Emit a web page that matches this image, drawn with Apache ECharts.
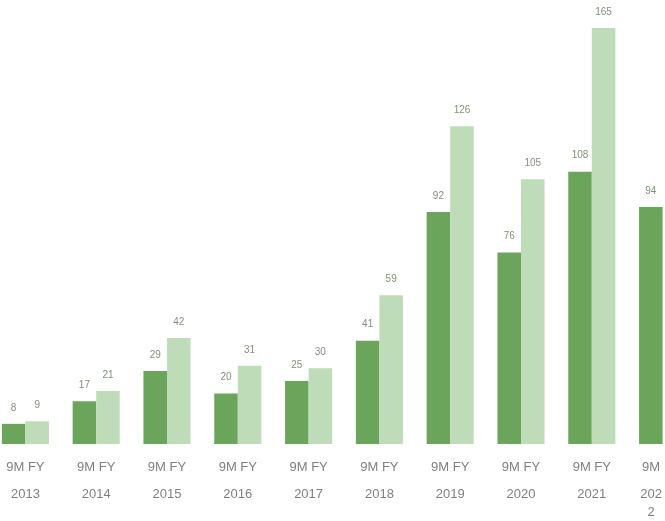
<!DOCTYPE html>
<html>
<head>
	<meta charset="utf-8">
	<title>9M vs FY</title>
	<script src="https://cdn.jsdelivr.net/npm/echarts@6/dist/echarts.min.js"></script>
	<style>
		html, body { margin: 0; padding: 0; background: #fff; overflow: hidden; width: 665px; height: 521px; }
		/* the original picture is cut on the left and right edges */
		#main { position: absolute; left: -10px; top: 0; width: 708px; height: 521px; }
	</style>
</head>
<body>
	<div id="main"></div>
	<script>
		var years = ['2013', '2014', '2015', '2016', '2017', '2018', '2019', '2020', '2021', '2022'];
		var periodLabels = ['9M FY', '9M FY', '9M FY', '9M FY', '9M FY', '9M FY', '9M FY', '9M FY', '9M FY', '9M'];
		var nineMonths = [8, 17, 29, 20, 25, 41, 92, 76, 108, 94];
		var fullYear = [9, 21, 42, 31, 30, 59, 126, 105, 165, null];

		var chart = echarts.init(document.getElementById('main'));
		var valueLabel = {
			show: true,
			position: 'top',
			distance: 11,
			fontSize: 10,
			fontFamily: 'Liberation Sans',
			color: '#7f9378'
		};
		chart.setOption({
			animation: false,
			grid: {
				left: 0,
				right: 0,
				top: 28,
				bottom: 77
			},
			xAxis: {
				type: 'category',
				data: years,
				axisLine: { show: false },
				axisTick: { show: false },
				axisLabel: {
					interval: 0,
					margin: 10,
					fontFamily: 'Liberation Sans',
					fontSize: 13,
					lineHeight: 27,
					color: '#808080',
					formatter: function (val, idx) {
						if (idx === years.length - 1) {
							// last group is cut by the right edge, year wraps
							return '{a|' + periodLabels[idx] + '}\n{a|' + val.slice(0, 3) + '}\n{b|' + val.slice(3) + '}';
						}
						return periodLabels[idx] + '\n' + val;
					},
					rich: {
						a: {
							fontFamily: 'Liberation Sans',
							fontSize: 13,
							lineHeight: 27,
							color: '#808080',
							padding: [0, 23, 0, 0]
						},
						b: {
							fontFamily: 'Liberation Sans',
							fontSize: 13,
							lineHeight: 9,
							color: '#808080',
							padding: [0, 23, 0, 0]
						}
					}
				}
			},
			yAxis: {
				type: 'value',
				min: 0,
				max: 165,
				show: false,
				splitLine: { show: false }
			},
			series: [
				{
					name: '9M',
					type: 'bar',
					data: nineMonths,
					barGap: '0%',
					barCategoryGap: '33.5%',
					itemStyle: { color: '#6ba55c' },
					label: valueLabel
				},
				{
					name: 'FY',
					type: 'bar',
					data: fullYear,
					itemStyle: { color: '#bfdcb9' },
					label: valueLabel
				}
			]
		});
	</script>
</body>
</html>
